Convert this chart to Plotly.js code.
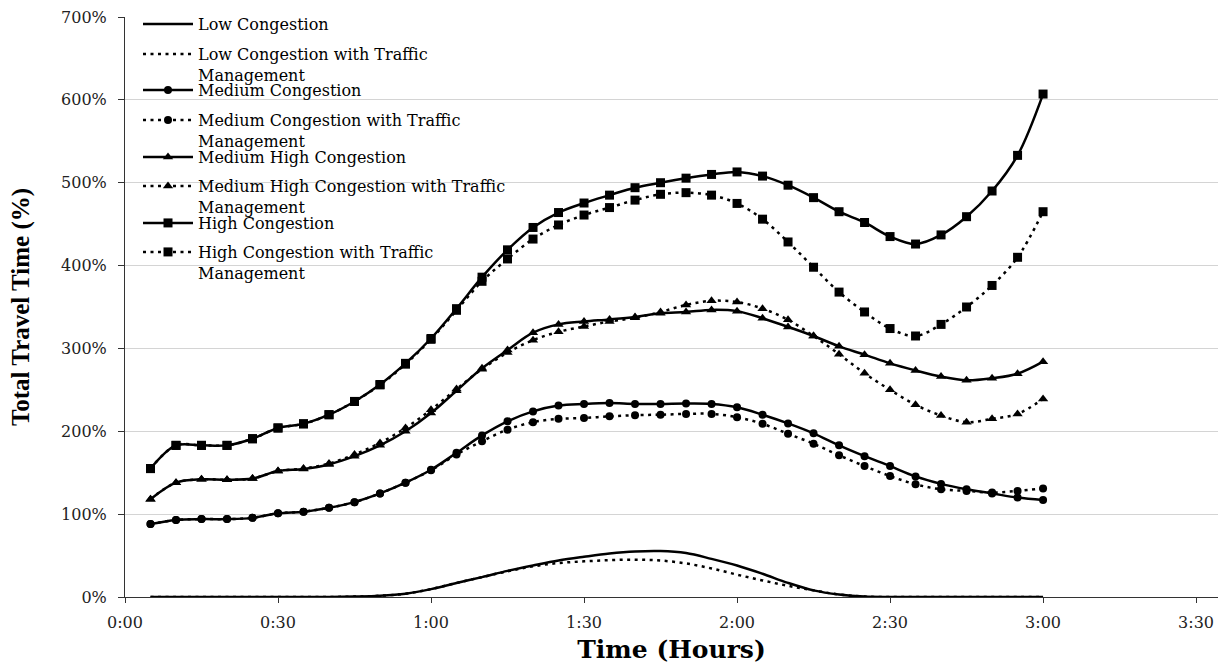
<!DOCTYPE html>
<html>
<head>
<meta charset="utf-8">
<script src="https://cdn.plot.ly/plotly-3.0.1.min.js"></script>
<style>
html,body{margin:0;padding:0;background:#fff;}
#chart{width:1225px;height:666px;}
</style>
</head>
<body>
<div id="chart"></div>
<script>
// Time in minutes (0:05 .. 3:00)
var minutes = [5,10,15,20,25,30,35,40,45,50,55,60,65,70,75,80,85,90,95,100,105,110,115,120,125,130,135,140,145,150,155,160,165,170,175,180];

var tickMinutes = [0,30,60,90,120,150,180,210];
var tickLabels = ['0:00','0:30','1:00','1:30','2:00','2:30','3:00','3:30'];
var yTickVals = [0,100,200,300,400,500,600,700];
var yTickLabels = ['0%','100%','200%','300%','400%','500%','600%','700%'];

var seriesNames = [
  'Low Congestion',
  'Low Congestion with Traffic<br>Management',
  'Medium Congestion',
  'Medium Congestion with Traffic<br>Management',
  'Medium High Congestion',
  'Medium High Congestion with Traffic<br>Management',
  'High Congestion',
  'High Congestion with Traffic<br>Management'
];

var low = [0,0,0,0,0,0,0,0,0.5,1.5,4,9.5,17,24,31.5,38,44,48.5,52.5,55,55.5,53,46,38,28,17,8,3,0.5,0,0,0,0,0,0,0];
var lowTM = [0,0,0,0,0,0,0,0,0.5,1.5,4,9.5,17,24,31,37,41,43,44.5,45,44,40.5,34.5,27,20,13.5,8,3,0.5,0,0,0,0,0,0,0];
var medium = [88,93,94,94,95.5,101,103,107.7,114.5,125,138,153.6,174,195,212,224,231,233,234,233,233,233.5,233,229,220,209.5,197.5,183,170,158,145.5,136.5,130,125,120,117];
var mediumTM = [88,93,94,94,95.5,101,103,107.7,114.5,125,138,153,172,188,202,211,215,216,218,219.5,220,221,221,217,209,197,185,171,158,146,136,130,128,126,128,131];
var medHigh = [118,138,142,141.5,143,152,154.5,160,170,183,200,222,249,276,298,319,329,332.5,335,338,342.5,344,346.5,345,336.5,326,315,302.5,292.5,282,273.5,266,261.5,264,269.5,284];
var medHighTM = [118,138,142,141.5,143,152,155,161,172,186,204,226,251,275,295,310,320,326.5,332.5,337,344,352.5,357.5,356,348,334.5,315,293,270,250,232,219,211,215,221,239];
var high = [155,183,183,183,191,204,209,220,236,256.5,282,312,348,386,419,446,464,475.5,485,494,500,505.5,510,513,508,497,482,465,452,435,426,437,459,490,533,607];
var highTM = [155,183,183,183,191,204,209,220,236,256,281,311,346,381,408,432,449,461,470,479,486,488,485,475,456,428.5,398,368,344,324,315,329,350,376,410,465];

var seriesValues = [low, lowTM, medium, mediumTM, medHigh, medHighTM, high, highTM];
var seriesMarkers = ['', '', 'circle', 'circle', 'triangle-up', 'triangle-up', 'square', 'square'];
var seriesDotted = [false, true, false, true, false, true, false, true];

var markerSizes = {'circle': 8, 'triangle-up': 9, 'square': 9};
var legendIds = ['legend','legend2','legend3','legend4','legend5','legend6','legend7','legend8'];
// vertical placement of each legend entry (paper coords)
var legendY = [1.0172, 0.9655, 0.9034, 0.8517, 0.7879, 0.7379, 0.6741, 0.6241];

var traces = seriesValues.map(function(vals, i){
  var sym = seriesMarkers[i];
  var t = {
    x: minutes,
    y: vals,
    name: seriesNames[i],
    type: 'scatter',
    mode: sym ? 'lines+markers' : 'lines',
    line: {color: '#000', width: 2.5, shape: 'spline', smoothing: 1, dash: seriesDotted[i] ? '3px,4.5px' : 'solid'},
    legend: legendIds[i]
  };
  if (sym) {
    t.marker = {symbol: sym, size: markerSizes[sym], color: '#000', line: {width: 0}};
  }
  return t;
});

var serif = 'DejaVu Serif, serif';

var layout = {
  width: 1225,
  height: 666,
  margin: {l: 125, r: 7, t: 17, b: 69},
  paper_bgcolor: '#fff',
  plot_bgcolor: '#fff',
  showlegend: true,
  xaxis: {
    range: [0, 214.3],
    tickmode: 'array',
    tickvals: tickMinutes,
    ticktext: tickLabels,
    ticks: 'outside',
    ticklen: 5,
    tickcolor: '#333',
    ticklabelstandoff: 6,
    showline: true,
    linecolor: '#333',
    linewidth: 1,
    showgrid: false,
    zeroline: false,
    tickfont: {family: serif, size: 16, color: '#222'},
    title: {text: 'Time (Hours)', font: {family: serif, size: 25, color: '#000', weight: 'bold'}, standoff: 9}
  },
  yaxis: {
    range: [0, 700],
    tickmode: 'array',
    tickvals: yTickVals,
    ticktext: yTickLabels,
    ticks: 'outside',
    ticklen: 6,
    tickcolor: '#333',
    ticklabelstandoff: 8,
    showline: true,
    linecolor: '#333',
    linewidth: 1,
    showgrid: true,
    gridcolor: '#d4d4d4',
    gridwidth: 1,
    zeroline: false,
    tickfont: {family: serif, size: 16, color: '#222'},
    title: {text: 'Total Travel Time (%)', font: {family: 'Liberation Serif, serif', size: 25, color: '#000', weight: 'bold'}, standoff: 24}
  }
};

legendIds.forEach(function(id, i){
  layout[id] = {
    x: 0.0119, y: legendY[i], xanchor: 'left', yanchor: 'top',
    bgcolor: 'rgba(0,0,0,0)',
    borderwidth: 0,
    itemwidth: 50,
    valign: 'top',
    font: {family: serif, size: 16, color: '#000'}
  };
});

Plotly.newPlot('chart', traces, layout, {displayModeBar: false, staticPlot: true});
</script>
</body>
</html>
